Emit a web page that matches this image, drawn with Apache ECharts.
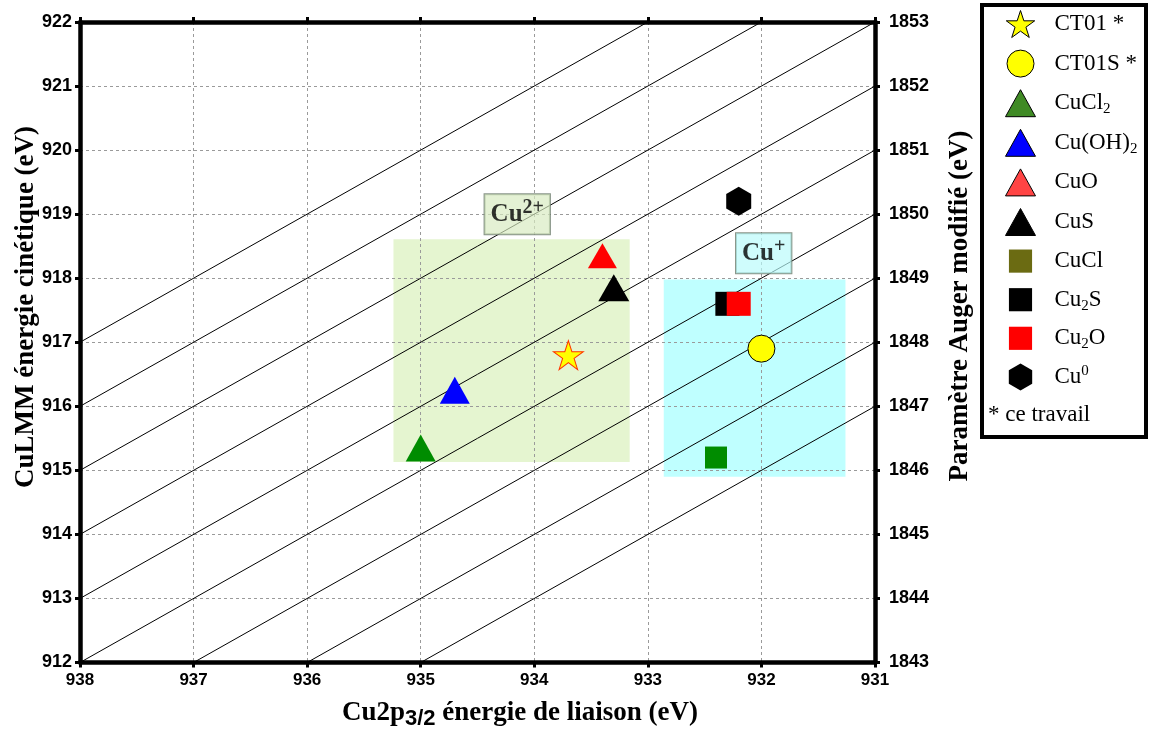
<!DOCTYPE html>
<html><head><meta charset="utf-8">
<script src="https://cdn.jsdelivr.net/npm/echarts@6.0.0/dist/echarts.min.js"></script>
<style>html,body{margin:0;padding:0;background:#fff}#c{width:1154px;height:736px}</style>
</head><body><div id="c"></div>
<script>
// ---- data ----
const compounds = ['CT01 *','CT01S *','CuCl2','Cu(OH)2','CuO','CuS','CuCl','Cu2S','Cu2O','Cu0'];
const bindingEnergy = [933.7, 932.0, 935.0, 934.7, 933.4, 933.3, 932.4, 932.3, 932.2, 932.2];
const kineticEnergy = [916.8, 916.9, 915.35, 916.25, 918.35, 917.85, 915.2, 917.6, 917.6, 919.2];
const augerParamLines = [1847, 1848, 1849, 1850, 1851, 1852, 1853, 1854, 1855];
const regionNames = ['Cu2+', 'Cu+'];
const regionBE = [[935.24, 933.16], [932.86, 931.26]];
const regionKE = [[915.13, 918.61], [914.90, 917.98]];
const regionLabelBE = [934.15, 931.98];
const regionLabelKE = [919.0, 918.39];
const beRange = [931, 938];
const keRange = [912, 922];
const apRange = [1843, 1853];

// ---- styles ----
const STAR = 'path://M50,0L61.23,34.55L97.55,34.55L68.17,55.9L79.39,90.45L50,69.1L20.61,90.45L31.83,55.9L2.45,34.55L38.77,34.55Z';
const HEX = 'path://M43.3,0L86.6,25L86.6,75L43.3,100L0,75L0,25Z';
const SQ_LEG = 'path://M0,0M28,28M2,2L26,2L26,26L2,26Z';
const markerStyles = [
  {symbol: STAR, size: [30, 29], color: '#ffff00', border: '#ff3300', bw: 1, legIcon: STAR, legColor: '#ffff00', legBorder: '#000', legBw: 1},
  {symbol: 'circle', size: 27, color: '#ffff00', border: '#000', bw: 1, legIcon: 'circle', legColor: '#ffff00', legBorder: '#000', legBw: 1},
  {symbol: 'triangle', size: [30, 27], color: '#008c00', border: '#008c00', bw: 0, legIcon: 'triangle', legColor: '#3f8a24', legBorder: '#000', legBw: 1},
  {symbol: 'triangle', size: [30, 27], color: '#0000ff', border: '#0000ff', bw: 0, legIcon: 'triangle', legColor: '#0000ff', legBorder: '#000', legBw: 1},
  {symbol: 'triangle', size: [29, 25], color: '#ff0000', border: '#ff0000', bw: 0, legIcon: 'triangle', legColor: '#ff4444', legBorder: '#000', legBw: 1},
  {symbol: 'triangle', size: [31, 27], color: '#000000', border: '#000', bw: 0, legIcon: 'triangle', legColor: '#000', legBorder: '#000', legBw: 1},
  {symbol: 'rect', size: 22, color: '#008c00', border: '#008c00', bw: 0, legIcon: SQ_LEG, legColor: '#6b6b12', legBorder: '#6b6b12', legBw: 0},
  {symbol: 'rect', size: 24, color: '#000000', border: '#000', bw: 0, legIcon: SQ_LEG, legColor: '#000', legBorder: '#000', legBw: 0},
  {symbol: 'rect', size: 24, color: '#ff0000', border: '#ff0000', bw: 0, legIcon: SQ_LEG, legColor: '#ff0000', legBorder: '#ff0000', legBw: 0},
  {symbol: HEX, size: [25, 29], color: '#000000', border: '#000', bw: 0, legIcon: HEX, legColor: '#000', legBorder: '#000', legBw: 0}
];
const legendRichText = {
  'CT01 *': '{g| }{n|CT01 *}',
  'CT01S *': '{g| }{n|CT01S *}',
  'CuCl2': '{g| }{n|CuCl}{s|2}',
  'Cu(OH)2': '{g| }{n|Cu(OH)}{s|2}',
  'CuO': '{g| }{n|CuO}',
  'CuS': '{g| }{n|CuS}',
  'CuCl': '{g| }{n|CuCl}',
  'Cu2S': '{g| }{n|Cu}{s|2}{n|S}',
  'Cu2O': '{g| }{n|Cu}{s|2}{n|O}',
  'Cu0': '{g| }{n|Cu}{p|0}'
};
const regionFill = ['#e5f5d0', '#bfffff'];
const regionLabelRich = ['{c|Cu}{s|2+}', '{c|Cu}{s|+}'];
const regionLabelBg = ['rgba(215,234,192,0.85)', 'rgba(185,250,250,0.85)'];

const serif = "'Liberation Serif','Times New Roman',serif";
const sans = "'Liberation Sans',Arial,sans-serif";

const series = [];
// regions
series.push({
  type: 'custom', name: 'regions', z: -1, silent: true,
  data: regionNames.map((n, i) => [regionBE[i][0], regionKE[i][0], regionBE[i][1], regionKE[i][1]]),
  renderItem: function (params, api) {
    const p1 = api.coord([api.value(0), api.value(1)]);
    const p2 = api.coord([api.value(2), api.value(3)]);
    return {type: 'rect', shape: {x: Math.min(p1[0], p2[0]), y: Math.min(p1[1], p2[1]), width: Math.abs(p2[0] - p1[0]), height: Math.abs(p2[1] - p1[1])}, style: {fill: regionFill[params.dataIndex]}};
  }
});
// constant Auger parameter lines
augerParamLines.forEach(a => {
  series.push({
    type: 'line', name: 'alpha' + a, silent: true, symbol: 'none', clip: true, z: 3,
    lineStyle: {color: '#000', width: 1},
    data: [[beRange[1], a - beRange[1]], [beRange[0], a - beRange[0]]]
  });
});
// compounds
compounds.forEach((c, i) => {
  const s = markerStyles[i];
  series.push({
    type: 'scatter', name: c, z: 5 + i, symbol: s.symbol, symbolSize: s.size, symbolKeepAspect: false,
    itemStyle: {color: s.color, borderColor: s.border, borderWidth: s.bw, opacity: 1},
    data: [[bindingEnergy[i], kineticEnergy[i]]]
  });
});
// region labels
series.push({
  type: 'scatter', name: 'regionLabels', z: 4, silent: true, symbolSize: 1,
  itemStyle: {color: 'rgba(0,0,0,0)'},
  data: regionNames.map((n, i) => ({
    value: [regionLabelBE[i], regionLabelKE[i]],
    label: {
      show: true, position: 'inside', formatter: regionLabelRich[i],
      backgroundColor: regionLabelBg[i], borderColor: '#6b7a6b', borderWidth: 1,
      padding: [4, 6, 4, 6],
      rich: {
        c: {fontFamily: serif, fontWeight: 'bold', fontSize: 25, lineHeight: 32, color: '#000'},
        s: {fontFamily: serif, fontWeight: 'bold', fontSize: 20, lineHeight: 20, verticalAlign: 'top', color: '#000'}
      }
    }
  }))
});

const axisLine = {show: true, onZero: false, lineStyle: {color: '#000', width: 4.5}};
const axisTick = {show: true, length: 5, lineStyle: {color: '#000', width: 3}};
const gridLine = {show: true, lineStyle: {color: '#9a9a9a', width: 1, type: [3, 3]}};
const tickFont = {fontFamily: sans, fontWeight: 'bold', fontSize: 18, color: '#000', showMinLabel: true, showMaxLabel: true, formatter: v => String(v)};

const option = {
  animation: false,
  backgroundColor: '#fff',
  grid: {left: 80, right: 279, top: 22, bottom: 73.5, containLabel: false},
  xAxis: [
    {type: 'value', position: 'bottom', min: beRange[0], max: beRange[1], interval: 1, inverse: true,
     axisLine, axisTick, axisLabel: Object.assign({margin: 9}, tickFont, {fontSize: 17}), splitLine: gridLine},
    {type: 'value', position: 'top', min: beRange[0], max: beRange[1], interval: 1, inverse: true,
     axisLine, axisTick, axisLabel: {show: false}, splitLine: {show: false}}
  ],
  yAxis: [
    {type: 'value', position: 'left', min: keRange[0], max: keRange[1], interval: 1,
     axisLine, axisTick, axisLabel: Object.assign({margin: 8}, tickFont), splitLine: gridLine},
    {type: 'value', position: 'right', min: apRange[0], max: apRange[1], interval: 1,
     axisLine, axisTick, axisLabel: Object.assign({margin: 14}, tickFont), splitLine: {show: false}}
  ],
  legend: {
    orient: 'vertical', left: 1005, top: 10, padding: 0, itemWidth: 30, itemHeight: 27, itemGap: 11.6,
    selectedMode: false, z: 10,
    data: compounds.map((c, i) => ({
      name: c, icon: markerStyles[i].legIcon,
      itemStyle: {color: markerStyles[i].legColor, borderColor: markerStyles[i].legBorder, borderWidth: markerStyles[i].legBw}
    })),
    formatter: name => legendRichText[name],
    textStyle: {
      color: '#000', fontFamily: serif, fontSize: 23,
      rich: {
        g: {width: 14, fontSize: 10, lineHeight: 10},
        n: {fontFamily: serif, fontSize: 23, lineHeight: 27, color: '#000'},
        s: {fontFamily: serif, fontSize: 15, lineHeight: 2, verticalAlign: 'bottom', color: '#000'},
        p: {fontFamily: serif, fontSize: 15, lineHeight: 22, verticalAlign: 'top', color: '#000'}
      }
    }
  },
  graphic: [
    {type: 'rect', z: 1, shape: {x: 982, y: 5, width: 164, height: 432}, style: {fill: '#fff', stroke: '#000', lineWidth: 4}},
    {type: 'text', z: 11, x: 988, y: 415, style: {text: '* ce travail', font: '23px ' + serif, fill: '#000', align: 'left', verticalAlign: 'middle'}},
    {type: 'text', z: 11, x: 26, y: 307, rotation: Math.PI / 2,
     style: {text: 'CuLMM énergie cinétique (eV)', font: 'bold 27px ' + serif, fill: '#000', align: 'center', verticalAlign: 'middle'}},
    {type: 'text', z: 11, x: 960, y: 306, rotation: Math.PI / 2,
     style: {text: 'Paramètre Auger modifié (eV)', font: 'bold 27px ' + serif, fill: '#000', align: 'center', verticalAlign: 'middle'}},
    {type: 'text', z: 11, x: 520, y: 713,
     style: {text: '{a|Cu2p}{s|3/2}{a| énergie de liaison (eV)}', align: 'center', verticalAlign: 'middle',
       rich: {
         a: {fontFamily: serif, fontWeight: 'bold', fontSize: 27, lineHeight: 34, fill: '#000', color: '#000'},
         s: {fontFamily: sans, fontWeight: 'bold', fontSize: 22, lineHeight: 4, verticalAlign: 'bottom', fill: '#000', color: '#000'}
       }}}
  ],
  series: series
};
const chart = echarts.init(document.getElementById('c'));
chart.setOption(option);
</script>
</body></html>
